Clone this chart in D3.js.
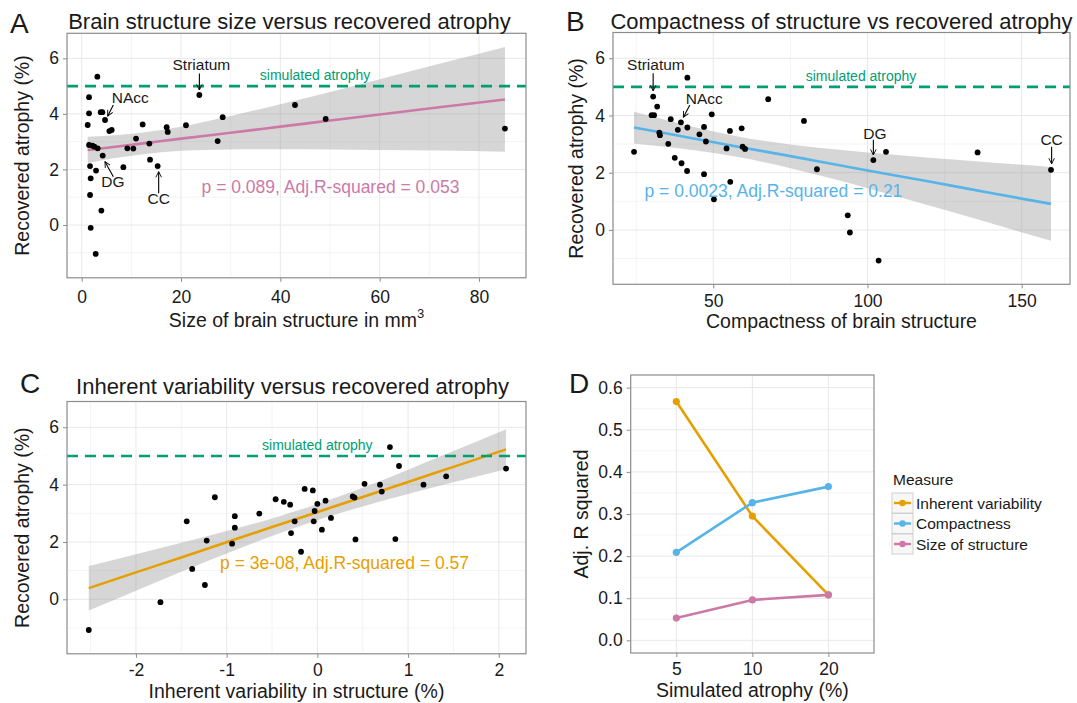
<!DOCTYPE html>
<html>
<head>
<meta charset="utf-8">
<script src="https://cdn.jsdelivr.net/npm/d3@7"></script>
<style>
  body { margin: 0; background: #fff; }
  svg text { font-family: "Liberation Sans", Arial, Helvetica, sans-serif; fill: #1a1a1a; }
</style>
</head>
<body>
<svg id="fig" width="1077" height="703"></svg>
<script>
// ---- Panel A: structure size (mm3) vs recovered atrophy (%)
const sizeX = [3.15, 1.48, 1.48, 1.21, 3.83, 4.16, 4.70, 5.57, 6.04, 1.48, 2.15, 2.55, 3.22, 4.23, 1.68, 2.89, 1.81, 1.68, 3.96, 1.81, 2.82,
  8.39, 9.19, 10.4, 10.94, 12.28, 13.62, 13.76, 15.30, 17.11, 17.32, 21.0, 23.69, 27.38, 28.39, 42.95, 49.13, 85.23];
const sizeY = [5.34, 4.60, 4.02, 3.60, 4.06, 4.06, 3.78, 3.38, 3.42, 2.88, 2.86, 2.82, 2.76, 2.50, 2.12, 1.96, 1.68, 1.08, 0.52, -0.10, -1.04,
  2.08, 2.76, 2.75, 3.11, 3.62, 2.93, 2.35, 2.12, 3.52, 3.35, 3.59, 4.68, 3.02, 3.88, 4.32, 3.82, 3.47];
const bandAX = [1.21, 6, 12, 20, 30, 40, 50, 60, 72, 85.23];
const bandALo = [2.22, 2.39, 2.54, 2.67, 2.72, 2.73, 2.72, 2.70, 2.68, 2.64];
const bandAHi = [3.18, 3.22, 3.32, 3.54, 3.92, 4.35, 4.79, 5.25, 5.80, 6.41];
const fitAY = [2.70, 2.80, 2.93, 3.11, 3.32, 3.54, 3.76, 3.98, 4.24, 4.52];

// ---- Panel B: compactness vs recovered atrophy
const compactX = [24.3, 30.5, 30.0, 30.8, 31.8, 32.5, 32.7, 35.4, 36.2, 37.5, 38.5, 39.5, 39.7, 41.6, 41.6, 41.5, 45.5, 47.0, 47.0, 47.6,
  49.5, 50.2, 54.3, 55.4, 55.5, 59.2, 59.5, 60.3, 67.8, 79.4, 83.6, 93.6, 94.3, 101.9, 103.6, 106.0, 135.7, 159.5];
const compactY = [2.73, 4.66, 4.01, 4.01, 4.31, 3.40, 3.31, 3.01, 3.87, 2.52, 3.50, 3.76, 2.33, 5.32, 3.58, 2.06, 3.34, 3.60, 1.95, 3.09,
  4.04, 1.07, 2.85, 3.46, 1.68, 3.55, 2.91, 2.83, 4.57, 3.81, 2.12, 0.51, -0.09, 2.44, -1.07, 2.73, 2.71, 2.10];
const bandBX = [24.3, 35, 45, 58.4, 75, 90, 105, 120, 140, 159.5];
const bandBLo = [3.02, 2.90, 2.77, 2.54, 2.16, 1.75, 1.31, 0.85, 0.23, -0.38];
const bandBHi = [4.13, 3.83, 3.56, 3.26, 2.99, 2.81, 2.66, 2.52, 2.36, 2.20];
const fitBY = [3.58, 3.37, 3.17, 2.90, 2.58, 2.28, 1.98, 1.69, 1.29, 0.91];

// ---- Panel C: inherent variability vs recovered atrophy
const inherentX = [-2.52, -1.73, -1.44, -1.38, -1.24, -1.22, -1.13, -0.94, -0.91, -0.91, -0.64, -0.46, -0.37, -0.30, -0.29, -0.25, -0.18,
  -0.14, -0.05, -0.04, -0.03, 0.00, 0.05, 0.09, 0.15, 0.39, 0.41, 0.42, 0.52, 0.69, 0.71, 0.80, 0.86, 0.90, 1.17, 1.42, 2.08];
const inherentY = [-1.07, -0.10, 2.72, 1.06, 0.50, 2.05, 3.56, 1.94, 2.50, 2.90, 2.99, 3.49, 3.40, 3.30, 2.31, 2.72, 1.66,
  3.85, 3.80, 2.72, 3.08, 3.33, 2.43, 3.44, 2.84, 3.59, 3.55, 2.09, 4.03, 4.00, 3.76, 5.31, 2.10, 4.65, 4.00, 4.29, 4.56];
const bandCX = [-2.52, -2, -1.5, -1, -0.5, -0.07, 0.5, 1, 1.5, 2.08];
const bandCLo = [-0.39, 0.30, 0.96, 1.60, 2.21, 2.69, 3.24, 3.67, 4.08, 4.54];
const bandCHi = [1.16, 1.57, 1.97, 2.38, 2.82, 3.25, 3.89, 4.52, 5.17, 5.93];
const fitCY = [0.39, 0.94, 1.46, 1.99, 2.52, 2.97, 3.57, 4.09, 4.62, 5.23];

// labelled structures (text anchor + arrow start/end, data units)
const structNames = ["Striatum", "NAcc", "DG", "CC"];
const labelAX = [24.1, 9.8, 6.3, 15.5];
const labelAY = [5.77, 4.60, 1.56, 0.96];
const arrowAFrom = [[23.7, 5.45], [6.37, 4.32], [6.37, 1.74], [15.5, 1.14]];
const arrowATo = [[23.7, 4.86], [5.23, 3.92], [4.69, 2.28], [15.5, 1.92]];
const labelBX = [31.4, 47.1, 102.4, 159.7];
const labelBY = [5.77, 4.60, 3.36, 3.15];
const arrowBFrom = [[30.5, 5.48], [42.4, 4.37], [101.9, 3.15], [159.7, 2.91]];
const arrowBTo = [[30.5, 4.86], [40.3, 3.94], [101.9, 2.62], [159.7, 2.31]];

// ---- Panel D: adj. R squared per simulated atrophy level
const atrophyLevels = ["5", "10", "20"];
const r2Inherent = [0.567, 0.295, 0.108];
const r2Compact = [0.209, 0.327, 0.365];
const r2Size = [0.053, 0.096, 0.108];
const measureNames = ["Inherent variability", "Compactness", "Size of structure"];

const colInherent = "#E69F00", colCompact = "#56B4E9", colSize = "#CC79A7", colSim = "#009E73";
const simulated = 5;
const yDomain = [-1.9, 6.9];

const svg = d3.select("#fig");

svg.append("defs").append("marker")
  .attr("id", "arr").attr("viewBox", "0 0 10 10")
  .attr("refX", 9).attr("refY", 5)
  .attr("markerWidth", 7).attr("markerHeight", 7)
  .attr("markerUnits", "userSpaceOnUse").attr("orient", "auto")
  .append("path").attr("d", "M1,1 L9,5 L1,9")
  .attr("fill", "none").attr("stroke", "#000").attr("stroke-width", 1.3);

function grid(g, x, y, o) {
  const vx = (vals, col) => g.append("g").selectAll("line").data(vals).join("line")
    .attr("x1", d => x(d)).attr("x2", d => x(d)).attr("y1", o.top).attr("y2", o.bottom)
    .attr("stroke", col).attr("stroke-width", 1);
  const hy = (vals, col) => g.append("g").selectAll("line").data(vals).join("line")
    .attr("y1", d => y(d)).attr("y2", d => y(d)).attr("x1", o.left).attr("x2", o.right)
    .attr("stroke", col).attr("stroke-width", 1);
  vx(o.xMinor || [], "#f4f4f4");
  hy(o.yMinor || [], "#f4f4f4");
  vx(o.xMajor || [], "#e8e8e8");
  hy(o.yMajor || [], "#e8e8e8");
}

// x tick labels: baseline sits tickBase px below the panel
function axes(g, x, y, o, xFmt, yFmt) {
  const ax = g.append("g").attr("transform", `translate(0,${o.bottom})`)
    .call(d3.axisBottom(x).tickValues(o.xTicks).tickFormat(xFmt).tickSizeOuter(0).tickSize(4).tickPadding(o.tickBase - 4 - 12.4));
  const ay = g.append("g").attr("transform", `translate(${o.left},0)`)
    .call(d3.axisLeft(y).tickValues(o.yTicks).tickFormat(yFmt).tickSizeOuter(0).tickSize(4).tickPadding(4));
  [ax, ay].forEach(a => {
    a.select(".domain").remove();
    a.selectAll(".tick line").attr("stroke", "#8c8c8c");
    a.selectAll(".tick text").attr("font-size", 17.5).attr("fill", "#1a1a1a")
      .style("font-family", '"Liberation Sans", Arial, sans-serif');
  });
}

function border(g, o) {
  g.append("rect").attr("x", o.left).attr("y", o.top)
    .attr("width", o.right - o.left).attr("height", o.bottom - o.top)
    .attr("fill", "none").attr("stroke", "#8c8c8c").attr("stroke-width", 1.2);
}

const plain = d => String(d);

function scatterPanel(o) {
  const g = svg.append("g");
  const x = d3.scaleLinear().domain(o.xDomain).range([o.left, o.right]);
  const y = d3.scaleLinear().domain(yDomain).range([o.bottom, o.top]);
  o.yMajor = [0, 2, 4, 6];
  o.yMinor = [-1, 1, 3, 5];
  o.yTicks = [0, 2, 4, 6];
  grid(g, x, y, o);

  const band = o.bandX.map((bx, i) => ({ x: bx, lo: o.bandLo[i], hi: o.bandHi[i], fit: o.fit[i] }));
  g.append("path").datum(band)
    .attr("d", d3.area().x(d => x(d.x)).y0(d => y(d.lo)).y1(d => y(d.hi)).curve(d3.curveMonotoneX))
    .attr("fill", "#999999").attr("fill-opacity", 0.4);
  g.append("path").datum(band)
    .attr("d", d3.line().x(d => x(d.x)).y(d => y(d.fit)).curve(d3.curveMonotoneX))
    .attr("fill", "none").attr("stroke", o.color).attr("stroke-width", 2.6);

  g.append("line").attr("x1", o.left).attr("x2", o.right)
    .attr("y1", y(simulated)).attr("y2", y(simulated))
    .attr("stroke", colSim).attr("stroke-width", 2.6).attr("stroke-dasharray", "11,7");
  g.append("text").attr("x", x(o.simPos[0])).attr("y", y(o.simPos[1]))
    .attr("text-anchor", "middle").attr("dominant-baseline", "central")
    .attr("font-size", 14).style("fill", colSim).text("simulated atrophy");

  g.append("g").selectAll("circle").data(o.px).join("circle")
    .attr("cx", d => x(d)).attr("cy", (d, i) => y(o.py[i])).attr("r", 2.9).attr("fill", "#000");

  if (o.labelX) {
    g.append("g").selectAll("text").data(structNames).join("text")
      .attr("x", (d, i) => x(o.labelX[i])).attr("y", (d, i) => y(o.labelY[i]))
      .attr("text-anchor", "middle").attr("dominant-baseline", "central")
      .attr("font-size", 15.5).text(d => d);
    g.append("g").selectAll("line").data(o.arrowFrom).join("line")
      .attr("x1", d => x(d[0])).attr("y1", d => y(d[1]))
      .attr("x2", (d, i) => x(o.arrowTo[i][0])).attr("y2", (d, i) => y(o.arrowTo[i][1]))
      .attr("stroke", "#000").attr("stroke-width", 1.1).attr("marker-end", "url(#arr)");
  }

  g.append("text").attr("x", x(o.pPos[0])).attr("y", y(o.pPos[1]))
    .attr("text-anchor", "middle").attr("dominant-baseline", "central")
    .attr("font-size", 17.5).style("fill", o.color).text(o.pText);

  border(g, o);
  axes(g, x, y, o, plain, plain);

  // titles
  g.append("text").attr("x", o.letterPos[0]).attr("y", o.letterPos[1])
    .attr("font-size", 28).text(o.letter);
  g.append("text").attr("x", (o.left + o.right) / 2 + o.titleShift).attr("y", o.titleY)
    .attr("text-anchor", "middle").attr("font-size", 22).text(o.title);
  const xt = g.append("text").attr("x", (o.left + o.right) / 2).attr("y", o.xTitleY)
    .attr("text-anchor", "middle").attr("font-size", 19.5);
  xt.append("tspan").text(o.xTitle);
  if (o.xTitleSup) xt.append("tspan").attr("font-size", 13).attr("dy", -9).text(o.xTitleSup);
  g.append("text").attr("transform", `translate(${o.yTitleX},${(o.top + o.bottom) / 2}) rotate(-90)`)
    .attr("text-anchor", "middle").attr("dominant-baseline", "central")
    .attr("font-size", 19.5).text("Recovered atrophy (%)");
}

scatterPanel({
  left: 67, right: 526, top: 33.3, bottom: 277.8, tickBase: 24.7,
  xDomain: [-2.96, 89.47], xTicks: [0, 20, 40, 60, 80], xMajor: [0, 20, 40, 60, 80], xMinor: [10, 30, 50, 70],
  px: sizeX, py: sizeY, bandX: bandAX, bandLo: bandALo, bandHi: bandAHi, fit: fitAY,
  color: colSize, simPos: [47.0, 5.40], pPos: [50.1, 1.38], pText: "p = 0.089, Adj.R-squared = 0.053",
  labelX: labelAX, labelY: labelAY, arrowFrom: arrowAFrom, arrowTo: arrowATo,
  letter: "A", letterPos: [10, 32.5], title: "Brain structure size versus recovered atrophy", titleShift: -7, titleY: 29.2,
  xTitle: "Size of brain structure in mm", xTitleSup: "3", xTitleY: 326.6, yTitleX: 22
});

scatterPanel({
  left: 613, right: 1070, top: 32.5, bottom: 284.3, tickBase: 22.2,
  xDomain: [17.48, 165.66], xTicks: [50, 100, 150], xMajor: [50, 100, 150], xMinor: [25, 75, 125],
  px: compactX, py: compactY, bandX: bandBX, bandLo: bandBLo, bandHi: bandBHi, fit: fitBY,
  color: colCompact, simPos: [97.9, 5.38], pPos: [69.5, 1.36], pText: "p = 0.0023, Adj.R-squared = 0.21",
  labelX: labelBX, labelY: labelBY, arrowFrom: arrowBFrom, arrowTo: arrowBTo,
  letter: "B", letterPos: [566, 31], title: "Compactness of structure vs recovered atrophy", titleShift: 0, titleY: 29.2,
  xTitle: "Compactness of brain structure", xTitleY: 328, yTitleX: 576
});

scatterPanel({
  left: 67, right: 526, top: 401.5, bottom: 653.8, tickBase: 22.2,
  xDomain: [-2.76, 2.30], xTicks: [-2, -1, 0, 1, 2], xMajor: [-2, -1, 0, 1, 2], xMinor: [-2.5, -1.5, -0.5, 0.5, 1.5],
  px: inherentX, py: inherentY, bandX: bandCX, bandLo: bandCLo, bandHi: bandCHi, fit: fitCY,
  color: colInherent, simPos: [0.0, 5.38], pPos: [0.30, 1.26], pText: "p = 3e-08, Adj.R-squared = 0.57",
  letter: "C", letterPos: [20, 392.6], title: "Inherent variability versus recovered atrophy", titleShift: -4, titleY: 393.6,
  xTitle: "Inherent variability in structure (%)", xTitleY: 698, yTitleX: 22
});

// ---- Panel D
(function () {
  const o = { left: 630.7, right: 874, top: 375, bottom: 653, tickBase: 21.5 };
  const g = svg.append("g");
  const x = d3.scalePoint().domain(atrophyLevels).range([o.left, o.right]).padding(0.6);
  const y = d3.scaleLinear().domain([-0.03, 0.63]).range([o.bottom, o.top]);
  o.xMajor = atrophyLevels;
  o.yMajor = [0, 0.1, 0.2, 0.3, 0.4, 0.5, 0.6];
  o.yMinor = [0.05, 0.15, 0.25, 0.35, 0.45, 0.55];
  o.xTicks = atrophyLevels;
  o.yTicks = o.yMajor;
  grid(g, x, y, o);

  const series = [
    { name: measureNames[0], vals: r2Inherent, color: colInherent },
    { name: measureNames[1], vals: r2Compact, color: colCompact },
    { name: measureNames[2], vals: r2Size, color: colSize }
  ];
  const line = d3.line().x((d, i) => x(atrophyLevels[i])).y(d => y(d));
  series.forEach(s => {
    g.append("path").datum(s.vals).attr("d", line)
      .attr("fill", "none").attr("stroke", s.color).attr("stroke-width", 2.6);
  });
  series.forEach(s => {
    g.append("g").selectAll("circle").data(s.vals).join("circle")
      .attr("cx", (d, i) => x(atrophyLevels[i])).attr("cy", d => y(d))
      .attr("r", 3.6).attr("fill", s.color);
  });

  border(g, o);
  axes(g, x, y, o, d => d, d3.format(".1f"));

  g.append("text").attr("x", 569).attr("y", 393).attr("font-size", 28).text("D");
  g.append("text").attr("x", (o.left + o.right) / 2).attr("y", 696.5)
    .attr("text-anchor", "middle").attr("font-size", 19.5).text("Simulated atrophy (%)");
  g.append("text").attr("transform", `translate(581,${(o.top + o.bottom) / 2}) rotate(-90)`)
    .attr("text-anchor", "middle").attr("dominant-baseline", "central")
    .attr("font-size", 19.5).text("Adj. R squared");

  // legend
  const lg = svg.append("g").attr("transform", "translate(892,0)");
  lg.append("text").attr("x", 1).attr("y", 485).attr("font-size", 15.5).text("Measure");
  const rows = [503, 523.5, 544];
  series.forEach((s, i) => {
    const r = lg.append("g").attr("transform", `translate(0,${rows[i]})`);
    r.append("rect").attr("x", 0).attr("y", -10).attr("width", 21).attr("height", 20)
      .attr("fill", "#f7f7f7").attr("stroke", "#d0d0d0");
    r.append("line").attr("x1", 2).attr("x2", 19).attr("y1", 0).attr("y2", 0)
      .attr("stroke", s.color).attr("stroke-width", 2.4);
    r.append("circle").attr("cx", 10.5).attr("cy", 0).attr("r", 3.2).attr("fill", s.color);
    r.append("text").attr("x", 24).attr("y", 0).attr("dominant-baseline", "central")
      .attr("font-size", 15.5).text(s.name);
  });
})();
</script>
</body>
</html>
